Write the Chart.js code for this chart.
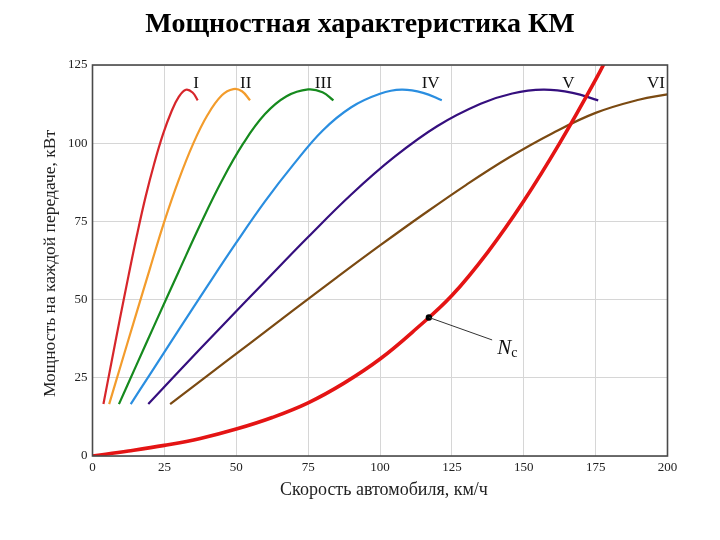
<!DOCTYPE html>
<html>
<head>
<meta charset="utf-8">
<script src="https://cdn.jsdelivr.net/npm/chart.js@4/dist/chart.umd.min.js"></script>
<style>
  html, body { margin: 0; padding: 0; background: #ffffff; }
  #wrap { width: 720px; height: 540px; position: relative; }
</style>
</head>
<body>
<div id="wrap"><canvas id="c" width="720" height="540"></canvas></div>
<script>
// ---- Data ----
const xTicks = [0, 25, 50, 75, 100, 125, 150, 175, 200];
const yTicks = [0, 25, 50, 75, 100, 125];

const gearNames = ["I", "II", "III", "IV", "V", "VI"];

const gear1Speed = [3.8, 6.5, 9.5, 12.5, 15.5, 18.5, 21.5, 24.5, 27.5, 30.0, 32.5, 34.8, 36.6];
const gear1Power = [16.6, 29.5, 43.7, 57.5, 70.8, 83.0, 93.6, 102.8, 110.2, 114.8, 117.1, 116.2, 113.7];

const gear2Speed = [5.8, 10.0, 15.0, 20.0, 25.0, 30.0, 35.0, 40.0, 45.0, 49.0, 52.0, 54.8];
const gear2Power = [16.6, 29.5, 44.8, 60.0, 75.0, 88.3, 99.8, 109.0, 115.3, 117.3, 116.6, 113.7];

const gear3Speed = [9.2, 15.0, 22.0, 30.0, 37.5, 45.0, 52.5, 60.0, 67.5, 75.0, 80.0, 83.8];
const gear3Power = [16.6, 28.5, 42.8, 59.0, 74.0, 88.0, 100.0, 109.3, 115.0, 117.2, 116.3, 113.7];

const gear4Speed = [13.3, 20.0, 30.0, 40.0, 50.0, 60.0, 70.0, 80.0, 90.0, 100.0, 107.5, 115.0, 121.5];
const gear4Power = [16.6, 26.1, 40.3, 54.4, 68.2, 81.4, 93.3, 104.0, 111.5, 115.8, 117.1, 116.1, 113.7];

const gear5Speed = [19.4, 30.0, 45.0, 60.0, 75.0, 90.0, 105.0, 120.0, 135.0, 146.0, 156.8, 167.0, 175.9];
const gear5Power = [16.6, 27.0, 41.5, 55.8, 70.0, 83.6, 95.6, 105.5, 112.6, 115.9, 117.1, 116.1, 113.7];

const gear6Speed = [27.0, 40.0, 55.0, 70.0, 85.0, 100.0, 115.0, 130.0, 145.0, 160.0, 175.0, 190.0, 200.0];
const gear6Power = [16.6, 25.7, 36.2, 46.7, 57.1, 67.3, 77.2, 86.7, 95.5, 103.2, 109.7, 113.9, 115.6];

const ncSpeed = [0, 12.5, 25, 37.5, 50, 62.5, 75, 87.5, 100, 112.5, 125, 137.5, 150, 162.5, 175, 181];
const ncPower = [0, 1.6, 3.4, 5.6, 8.6, 12.3, 17.0, 23.3, 31.0, 40.6, 51.3, 65.2, 81.5, 100.0, 120.3, 131.0];

const ncMarkSpeed = [117];
const ncMarkPower = [44.3];

// label anchors (data coords)
const gearLabelSpeed = [36.0, 53.3, 80.3, 117.6, 165.5, 196.0];
const gearLabelPower = [119.2, 119.2, 119.2, 119.2, 119.2, 119.2];
const ncLabelSpeed = [139.0];
const ncLabelPower = [37.1];

// ---- Build datasets ----
function pts(xs, ys) { return xs.map((x, i) => ({ x: x, y: ys[i] })); }

const gearColors = ["#d7262b", "#f39c2c", "#168a1e", "#2a8ee0", "#350f7e", "#7b4a12"];
const gearSpeeds = [gear1Speed, gear2Speed, gear3Speed, gear4Speed, gear5Speed, gear6Speed];
const gearPowers = [gear1Power, gear2Power, gear3Power, gear4Power, gear5Power, gear6Power];

const datasets = gearSpeeds.map((s, i) => ({
  label: gearNames[i],
  data: pts(s, gearPowers[i]),
  borderColor: gearColors[i],
  borderWidth: 2.2,
  pointRadius: 0,
  tension: 0.4,
  fill: false,
  order: 2
}));
datasets.push({
  label: "Nc",
  data: pts(ncSpeed, ncPower),
  borderColor: "#e41414",
  borderWidth: 3.6,
  pointRadius: 0,
  tension: 0.4,
  fill: false,
  order: 1
});
datasets.push({
  label: "Nc mark",
  data: pts(ncMarkSpeed, ncMarkPower),
  showLine: false,
  pointRadius: 3.2,
  pointBackgroundColor: "#000",
  pointBorderColor: "#000",
  pointBorderWidth: 0,
  order: 0
});

const serif = '"Liberation Serif", "DejaVu Serif", serif';

const decor = {
  id: 'decor',
  afterDraw(chart) {
    const ctx = chart.ctx;
    const xs = chart.scales.x, ys = chart.scales.y;
    const a = chart.chartArea;
    ctx.save();
    // frame
    ctx.strokeStyle = '#4a4a4a';
    ctx.lineWidth = 1.6;
    ctx.strokeRect(a.left, a.top, a.right - a.left, a.bottom - a.top);

    // title
    ctx.fillStyle = '#000';
    ctx.font = 'bold 28px ' + serif;
    ctx.textAlign = 'center';
    ctx.textBaseline = 'middle';
    ctx.fillText('Мощностная характеристика КМ', 360, 25);

    // axis titles
    ctx.font = '18px ' + serif;
    ctx.fillStyle = '#222';
    ctx.fillText('Скорость автомобиля, км/ч', 384, 490);
    ctx.font = '17.5px ' + serif;
    ctx.save();
    ctx.translate(50, (a.top + a.bottom) / 2 + 3);
    ctx.rotate(-Math.PI / 2);
    ctx.fillText('Мощность на каждой передаче, кВт', 0, 0);
    ctx.restore();

    // gear labels
    ctx.font = '17px ' + serif;
    ctx.fillStyle = '#111';
    gearNames.forEach((n, i) => {
      ctx.fillText(n, xs.getPixelForValue(gearLabelSpeed[i]), ys.getPixelForValue(gearLabelPower[i]));
    });

    // Nc leader line and label
    const px = xs.getPixelForValue(ncMarkSpeed[0]);
    const py = ys.getPixelForValue(ncMarkPower[0]);
    const lx = xs.getPixelForValue(ncLabelSpeed[0]);
    const ly = ys.getPixelForValue(ncLabelPower[0]);
    ctx.strokeStyle = '#333';
    ctx.lineWidth = 1;
    ctx.beginPath();
    ctx.moveTo(px, py);
    ctx.lineTo(lx, ly);
    ctx.stroke();
    ctx.textAlign = 'left';
    ctx.textBaseline = 'alphabetic';
    ctx.font = 'italic 21px ' + serif;
    ctx.fillStyle = '#111';
    ctx.fillText('N', lx + 5, ly + 14);
    const w = ctx.measureText('N').width;
    ctx.font = '14px ' + serif;
    ctx.fillText('c', lx + 5 + w, ly + 17);
    ctx.restore();
  }
};

new Chart(document.getElementById('c'), {
  type: 'line',
  data: { datasets: datasets },
  options: {
    responsive: false,
    animation: false,
    devicePixelRatio: 1,
    layout: { padding: { left: 0, right: 52.5, top: 65, bottom: 0 } },
    plugins: {
      legend: { display: false },
      title: { display: false },
      tooltip: { enabled: false }
    },
    scales: {
      x: {
        type: 'linear',
        min: 0, max: 200,
        afterFit(s) { s.height = 84; },
        afterBuildTicks(s) { s.ticks = xTicks.map(v => ({ value: v })); },
        grid: { color: '#d6d6d6', lineWidth: 1, drawTicks: false },
        border: { display: false },
        ticks: { color: '#222', padding: 4, font: { family: serif, size: 13 } }
      },
      y: {
        type: 'linear',
        min: 0, max: 125,
        afterFit(s) { s.width = 92.5; },
        afterBuildTicks(s) { s.ticks = yTicks.map(v => ({ value: v })); },
        grid: { color: '#d6d6d6', lineWidth: 1, drawTicks: false },
        border: { display: false },
        ticks: { color: '#222', padding: 5, font: { family: serif, size: 13 } }
      }
    }
  },
  plugins: [decor]
});
</script>
</body>
</html>
